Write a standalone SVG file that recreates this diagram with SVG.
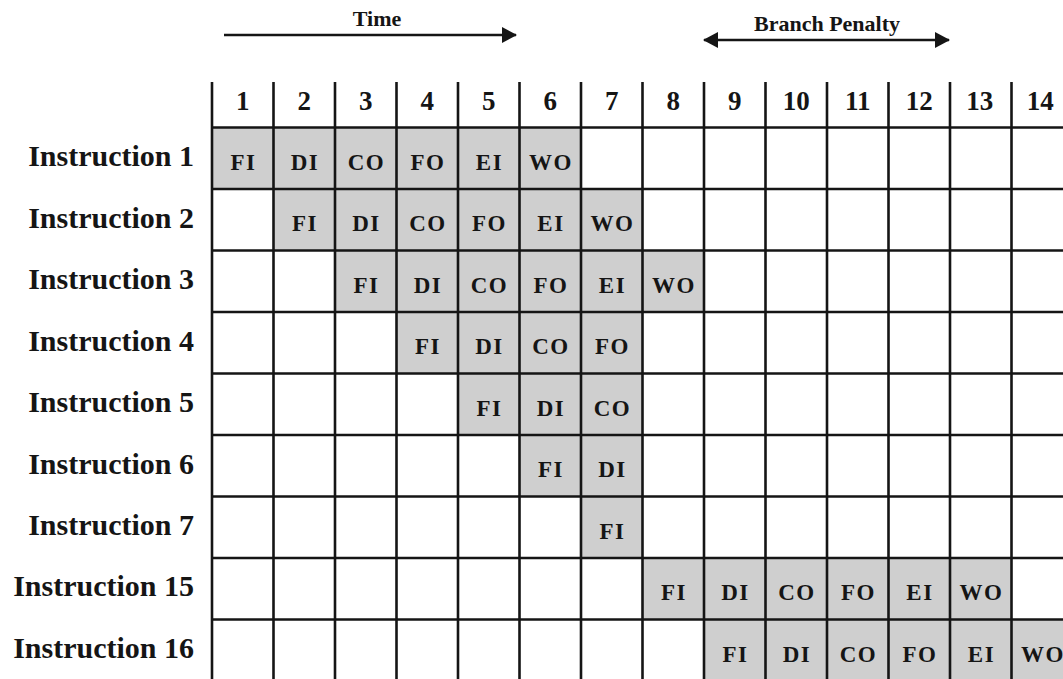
<svg xmlns="http://www.w3.org/2000/svg" width="1063" height="679" viewBox="0 0 1063 679">
<defs>
<style>
.t{font-family:"Liberation Serif","Times New Roman",serif;font-weight:bold;fill:#151515}
.hdr{font-size:27px;text-anchor:middle}
.lbl{font-size:30px;text-anchor:end}
.cell{font-size:23px;text-anchor:middle;letter-spacing:1.5px}
.cap{font-size:22px;text-anchor:middle}
.sh{fill:#cfcfcf}
.g{stroke:#151515;stroke-width:2.6;fill:none}
.arr{stroke:#151515;stroke-width:2.6;fill:none}
</style>
<marker id="ah" markerWidth="15" markerHeight="16" refX="14" refY="8" orient="auto-start-reverse" markerUnits="userSpaceOnUse">
<path d="M0,0 L15,8 L0,16 Z" fill="#151515"/>
</marker>
</defs>
<rect width="1063" height="679" fill="#fff"/>

<g id="connectors">
<line class="arr" x1="224" y1="35" x2="516" y2="35" marker-end="url(#ah)"/>
<line class="arr" x1="704" y1="40" x2="949" y2="40" marker-start="url(#ah)" marker-end="url(#ah)"/>
</g>
<g id="captions">
<text class="t cap" x="377" y="26">Time</text>
<text class="t cap" x="827" y="31">Branch Penalty</text>
</g>

<g id="shading">
<rect class="sh" x="212" y="127.5" width="369" height="61.5"/>
<rect class="sh" x="273.5" y="189" width="369" height="61.5"/>
<rect class="sh" x="335" y="250.5" width="369" height="61.5"/>
<rect class="sh" x="396.5" y="312" width="246" height="61.5"/>
<rect class="sh" x="458" y="373.5" width="184.5" height="61.5"/>
<rect class="sh" x="519.5" y="435" width="123" height="61.5"/>
<rect class="sh" x="581" y="496.5" width="61.5" height="61.5"/>
<rect class="sh" x="642.5" y="558" width="369" height="61.5"/>
<rect class="sh" x="704" y="619.5" width="369" height="61.5"/>
</g>

<g id="grid">
<line class="g" x1="212" y1="127.5" x2="1063" y2="127.5"/>
<line class="g" x1="212" y1="189" x2="1063" y2="189"/>
<line class="g" x1="212" y1="250.5" x2="1063" y2="250.5"/>
<line class="g" x1="212" y1="312" x2="1063" y2="312"/>
<line class="g" x1="212" y1="373.5" x2="1063" y2="373.5"/>
<line class="g" x1="212" y1="435" x2="1063" y2="435"/>
<line class="g" x1="212" y1="496.5" x2="1063" y2="496.5"/>
<line class="g" x1="212" y1="558" x2="1063" y2="558"/>
<line class="g" x1="212" y1="619.5" x2="1063" y2="619.5"/>
<line class="g" x1="212" y1="82" x2="212" y2="679"/>
<line class="g" x1="273.5" y1="82" x2="273.5" y2="679"/>
<line class="g" x1="335" y1="82" x2="335" y2="679"/>
<line class="g" x1="396.5" y1="82" x2="396.5" y2="679"/>
<line class="g" x1="458" y1="82" x2="458" y2="679"/>
<line class="g" x1="519.5" y1="82" x2="519.5" y2="679"/>
<line class="g" x1="581" y1="82" x2="581" y2="679"/>
<line class="g" x1="642.5" y1="82" x2="642.5" y2="679"/>
<line class="g" x1="704" y1="82" x2="704" y2="679"/>
<line class="g" x1="765.5" y1="82" x2="765.5" y2="679"/>
<line class="g" x1="827" y1="82" x2="827" y2="679"/>
<line class="g" x1="888.5" y1="82" x2="888.5" y2="679"/>
<line class="g" x1="950" y1="82" x2="950" y2="679"/>
<line class="g" x1="1011.5" y1="82" x2="1011.5" y2="679"/>
</g>

<g id="header">
<text class="t hdr" x="242.75" y="110">1</text>
<text class="t hdr" x="304.25" y="110">2</text>
<text class="t hdr" x="365.75" y="110">3</text>
<text class="t hdr" x="427.25" y="110">4</text>
<text class="t hdr" x="488.75" y="110">5</text>
<text class="t hdr" x="550.25" y="110">6</text>
<text class="t hdr" x="611.75" y="110">7</text>
<text class="t hdr" x="673.25" y="110">8</text>
<text class="t hdr" x="734.75" y="110">9</text>
<text class="t hdr" x="796.25" y="110">10</text>
<text class="t hdr" x="857.75" y="110">11</text>
<text class="t hdr" x="919.25" y="110">12</text>
<text class="t hdr" x="979.75" y="110">13</text>
<text class="t hdr" x="1040.25" y="110">14</text>
</g>

<g id="instr1">
<text class="t lbl" x="194" y="166">Instruction 1</text>
<text class="t cell" x="243.5" y="169.5">FI</text>
<text class="t cell" x="305" y="169.5">DI</text>
<text class="t cell" x="366.5" y="169.5">CO</text>
<text class="t cell" x="428" y="169.5">FO</text>
<text class="t cell" x="489.5" y="169.5">EI</text>
<text class="t cell" x="551" y="169.5">WO</text>
</g>
<g id="instr2">
<text class="t lbl" x="194" y="227.5">Instruction 2</text>
<text class="t cell" x="305" y="231">FI</text>
<text class="t cell" x="366.5" y="231">DI</text>
<text class="t cell" x="428" y="231">CO</text>
<text class="t cell" x="489.5" y="231">FO</text>
<text class="t cell" x="551" y="231">EI</text>
<text class="t cell" x="612.5" y="231">WO</text>
</g>
<g id="instr3">
<text class="t lbl" x="194" y="289">Instruction 3</text>
<text class="t cell" x="366.5" y="292.5">FI</text>
<text class="t cell" x="428" y="292.5">DI</text>
<text class="t cell" x="489.5" y="292.5">CO</text>
<text class="t cell" x="551" y="292.5">FO</text>
<text class="t cell" x="612.5" y="292.5">EI</text>
<text class="t cell" x="674" y="292.5">WO</text>
</g>
<g id="instr4">
<text class="t lbl" x="194" y="350.5">Instruction 4</text>
<text class="t cell" x="428" y="354">FI</text>
<text class="t cell" x="489.5" y="354">DI</text>
<text class="t cell" x="551" y="354">CO</text>
<text class="t cell" x="612.5" y="354">FO</text>
</g>
<g id="instr5">
<text class="t lbl" x="194" y="412">Instruction 5</text>
<text class="t cell" x="489.5" y="415.5">FI</text>
<text class="t cell" x="551" y="415.5">DI</text>
<text class="t cell" x="612.5" y="415.5">CO</text>
</g>
<g id="instr6">
<text class="t lbl" x="194" y="473.5">Instruction 6</text>
<text class="t cell" x="551" y="477">FI</text>
<text class="t cell" x="612.5" y="477">DI</text>
</g>
<g id="instr7">
<text class="t lbl" x="194" y="535">Instruction 7</text>
<text class="t cell" x="612.5" y="538.5">FI</text>
</g>
<g id="instr15">
<text class="t lbl" x="194" y="596">Instruction 15</text>
<text class="t cell" x="674" y="600">FI</text>
<text class="t cell" x="735.5" y="600">DI</text>
<text class="t cell" x="797" y="600">CO</text>
<text class="t cell" x="858.5" y="600">FO</text>
<text class="t cell" x="920" y="600">EI</text>
<text class="t cell" x="981.5" y="600">WO</text>
</g>
<g id="instr16">
<text class="t lbl" x="194" y="657.5">Instruction 16</text>
<text class="t cell" x="735.5" y="661.5">FI</text>
<text class="t cell" x="797" y="661.5">DI</text>
<text class="t cell" x="858.5" y="661.5">CO</text>
<text class="t cell" x="920" y="661.5">FO</text>
<text class="t cell" x="981.5" y="661.5">EI</text>
<text class="t cell" x="1043" y="661.5">WO</text>
</g>
</svg>
